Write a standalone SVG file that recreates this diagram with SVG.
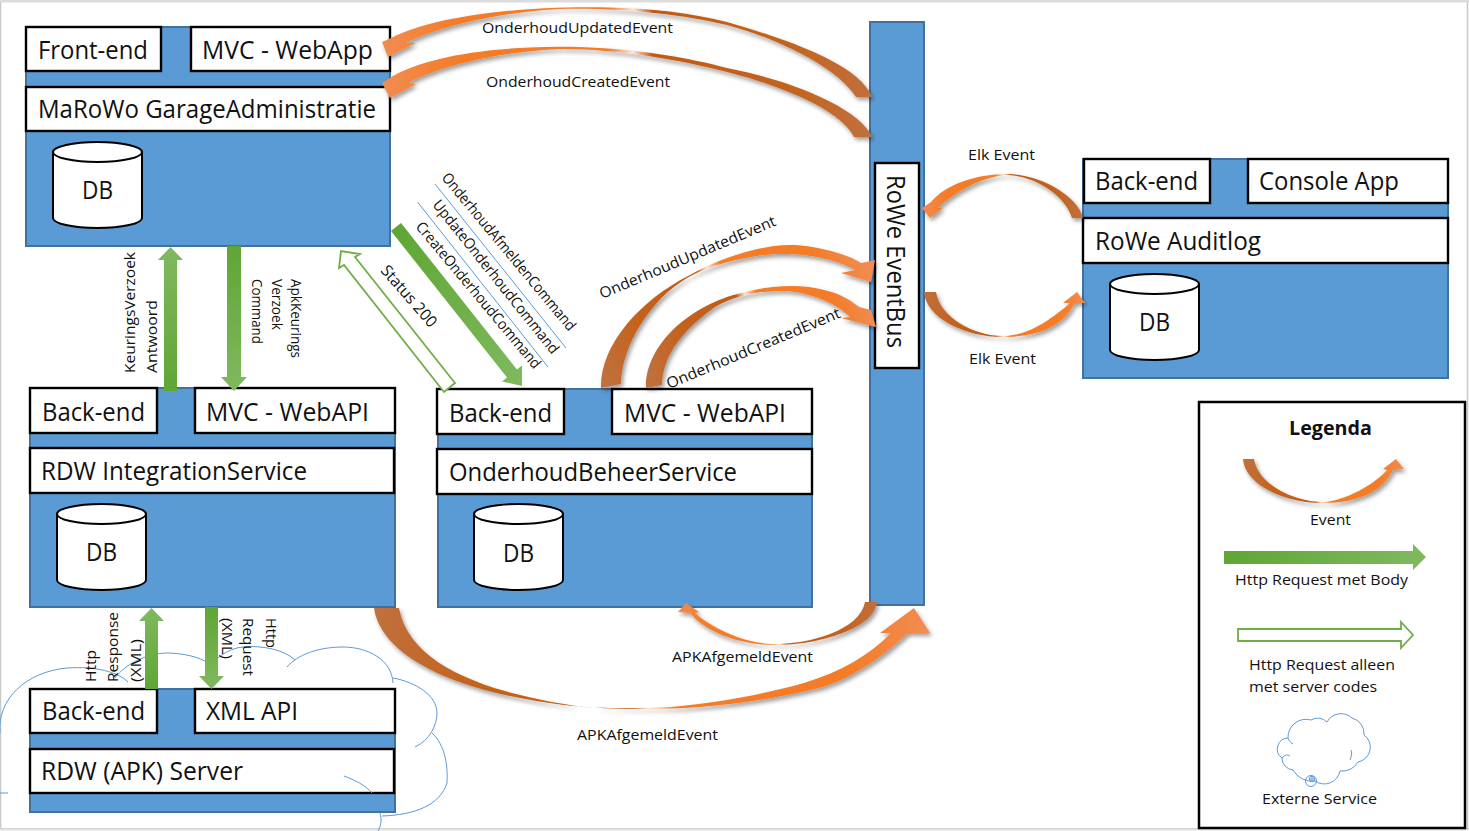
<svg xmlns="http://www.w3.org/2000/svg" width="1469" height="831" viewBox="0 0 1469 831">
<style>
text{font-family:"Open Sans","Noto Sans","Liberation Sans",sans-serif;fill:#111}
.b{fill:#5b9bd5;stroke:#41719c;stroke-width:2}
.w{fill:#fff;stroke:#000;stroke-width:2.4}
.big{font-size:25px}
.s{font-size:15px}
.cyl{fill:#fff;stroke:#000;stroke-width:2}
.ev{filter:url(#sh)}
.gr{stroke:none}
.ol{fill:#fff;stroke:#70ad47;stroke-width:1.8}
.cl{fill:none;stroke:#5b9bd5;stroke-width:1}
</style>
<defs>
<filter id="sh" x="-15%" y="-15%" width="130%" height="130%"><feDropShadow dx="2" dy="3" stdDeviation="2" flood-color="#000" flood-opacity=".38"/></filter>
<linearGradient id="ev"><stop offset="0" stop-color="#c0703d"/><stop offset=".18" stop-color="#c4631f"/><stop offset=".46" stop-color="#c25a14"/><stop offset=".5" stop-color="#fbe5d6"/><stop offset=".55" stop-color="#f47c28"/><stop offset=".85" stop-color="#f47c28"/><stop offset="1" stop-color="#f18c52"/></linearGradient>
<linearGradient id="e1" href="#ev" gradientUnits="userSpaceOnUse" x1="872" y1="97" x2="382" y2="50"/>
<linearGradient id="e2" href="#ev" gradientUnits="userSpaceOnUse" x1="872" y1="137" x2="382" y2="90"/>
<linearGradient id="e3" href="#ev" gradientUnits="userSpaceOnUse" x1="610" y1="388" x2="860" y2="250"/>
<linearGradient id="e4" href="#ev" gradientUnits="userSpaceOnUse" x1="652" y1="388" x2="875" y2="318"/>
<linearGradient id="e5" href="#ev" gradientUnits="userSpaceOnUse" x1="1083" y1="218" x2="922" y2="212"/>
<linearGradient id="e6" href="#ev" gradientUnits="userSpaceOnUse" x1="924" y1="292" x2="1085" y2="298"/>
<linearGradient id="e7" href="#ev" gradientUnits="userSpaceOnUse" x1="374" y1="608" x2="930" y2="625"/>
<linearGradient id="e8" href="#ev" gradientUnits="userSpaceOnUse" x1="877" y1="602" x2="678" y2="610"/>
<linearGradient id="e9" href="#ev" gradientUnits="userSpaceOnUse" x1="1243" y1="459" x2="1404" y2="465"/>
<linearGradient id="gu" x1="0" y1="1" x2="0" y2="0"><stop offset="0" stop-color="#5fa635"/><stop offset="1" stop-color="#80b95f"/></linearGradient>
<linearGradient id="gd" x1="0" y1="0" x2="0" y2="1"><stop offset="0" stop-color="#5fa635"/><stop offset="1" stop-color="#80b95f"/></linearGradient>
<linearGradient id="gr" x1="0" y1="0" x2="1" y2="0"><stop offset="0" stop-color="#5fa635"/><stop offset="1" stop-color="#80b95f"/></linearGradient>
<linearGradient id="gg" href="#gr" gradientUnits="userSpaceOnUse" x1="396" y1="227" x2="522" y2="386"/>
<path id="cy" d="M0 10A44.5 10 0 0 1 89 10V76A44.5 10 0 0 1 0 76Z M89 10A44.5 10 0 0 1 0 10"/>
</defs>
<rect width="1469" height="831" fill="#fff"/>
<rect width="1469" height="2.500" fill="#dcdcdc"/>
<path d="M.5 2V828M1467.5 2V829M0 829H1469" fill="none" stroke="#c8c8c8" stroke-width="1.5"/>
<rect x="0" y="829.500" width="1469" height="1.500" fill="#eee"/>

<g id="garage">
<rect class="b" x="26" y="27" width="364" height="219"/>
<rect class="w" x="26" y="27" width="135" height="44"/><text class="big" x="38" y="59" textLength="110" lengthAdjust="spacingAndGlyphs">Front-end</text>
<rect class="w" x="191" y="27" width="199" height="44"/><text class="big" x="202" y="59" textLength="171" lengthAdjust="spacingAndGlyphs">MVC - WebApp</text>
<rect class="w" x="26" y="87" width="364" height="44"/><text class="big" x="38" y="118" textLength="338" lengthAdjust="spacingAndGlyphs">MaRoWo GarageAdministratie</text>
<use class="cyl" href="#cy" x="53" y="142"/><text class="big" x="82" y="199" textLength="31" lengthAdjust="spacingAndGlyphs">DB</text>
</g>
<g id="rdw-integration">
<rect class="b" x="30" y="388" width="365" height="219"/>
<rect class="w" x="30" y="388" width="127" height="45"/><text class="big" x="42" y="421" textLength="103" lengthAdjust="spacingAndGlyphs">Back-end</text>
<rect class="w" x="195" y="388" width="200" height="45"/><text class="big" x="206" y="421" textLength="163" lengthAdjust="spacingAndGlyphs">MVC - WebAPI</text>
<rect class="w" x="30" y="448" width="364" height="45"/><text class="big" x="41" y="480" textLength="266" lengthAdjust="spacingAndGlyphs">RDW IntegrationService</text>
<use class="cyl" href="#cy" x="57" y="504"/><text class="big" x="86" y="561" textLength="31" lengthAdjust="spacingAndGlyphs">DB</text>
</g>
<g id="onderhoud">
<rect class="b" x="438" y="389" width="374" height="218"/>
<rect class="w" x="437" y="389" width="127" height="45"/><text class="big" x="449" y="422" textLength="103" lengthAdjust="spacingAndGlyphs">Back-end</text>
<rect class="w" x="612" y="389" width="200" height="45"/><text class="big" x="624" y="422" textLength="162" lengthAdjust="spacingAndGlyphs">MVC - WebAPI</text>
<rect class="w" x="437" y="449" width="375" height="45"/><text class="big" x="449" y="481" textLength="288" lengthAdjust="spacingAndGlyphs">OnderhoudBeheerService</text>
<use class="cyl" href="#cy" x="474" y="504"/><text class="big" x="503" y="562" textLength="31" lengthAdjust="spacingAndGlyphs">DB</text>
</g>
<g id="rdw-server">
<rect class="b" x="30" y="689" width="365" height="123"/>
<rect class="w" x="30" y="689" width="127" height="44"/><text class="big" x="42" y="720" textLength="103" lengthAdjust="spacingAndGlyphs">Back-end</text>
<rect class="w" x="195" y="689" width="200" height="44"/><text class="big" x="206" y="720" textLength="92" lengthAdjust="spacingAndGlyphs">XML API</text>
<rect class="w" x="30" y="749" width="364" height="44"/><text class="big" x="41" y="780" textLength="202" lengthAdjust="spacingAndGlyphs">RDW (APK) Server</text>
</g>
<g id="eventbus">
<rect class="b" x="870" y="22" width="54" height="583"/>
<rect class="w" x="875" y="163" width="44" height="205"/>
<text class="big" transform="translate(887 175) rotate(90)" textLength="173" lengthAdjust="spacingAndGlyphs">RoWe EventBus</text>
</g>
<g id="auditlog">
<rect class="b" x="1083" y="159" width="365" height="219"/>
<rect class="w" x="1084" y="159" width="126" height="44"/><text class="big" x="1095" y="190" textLength="103" lengthAdjust="spacingAndGlyphs">Back-end</text>
<rect class="w" x="1248" y="159" width="200" height="44"/><text class="big" x="1259" y="190" textLength="140" lengthAdjust="spacingAndGlyphs">Console App</text>
<rect class="w" x="1083" y="218" width="365" height="45"/><text class="big" x="1095" y="250" textLength="166" lengthAdjust="spacingAndGlyphs">RoWe Auditlog</text>
<use class="cyl" href="#cy" x="1110" y="274"/><text class="big" x="1139" y="331" textLength="31" lengthAdjust="spacingAndGlyphs">DB</text>
</g>
<g id="external-cloud" class="cl">
<path d="M0 733C-3 700 25 672 67 668C95 666 118 672 128 682M115 678C125 664 148 653 167 653C182 653 200 657 208 663M207 672C212 660 228 648 243 647C262 645 285 650 295 660M287 667C297 655 318 647 343 647C368 647 392 660 393 683M393 678C415 682 437 695 437 713C437 725 430 740 415 747M432 733C445 745 448 765 447 783C440 805 415 815 382 816M380 813C382 820 381 826 378 831M344 776C355 780 365 785 372 793M0 793H8"/>
</g>

<g id="connectors">
<path class="ev" fill="url(#e1)" d="M872 97C860 65 790 40 727 22C690 13 650 8 610 7.500C540 5.500 440 13 391 38L382 42L388 57L416 43L406 43C440 26 500 12 560 9C620 7.500 680 14 727 25C775 38 835 65 856 97Z"/>
<path class="ev" fill="url(#e2)" d="M872 137C860 108 790 80 727 68C690 58 640 50 600 48C530 44 440 50 393 76L382 83L390 98L416 84L409 83C430 70 490 52 560 49C620 49 680 60 727 72C775 84 840 108 854 137Z"/>
<path class="ev" fill="url(#e3)" d="M601 388C600 345 640 300 690 275C720 258 760 245 790 245C815 245 850 255 861 263L875 260L871 282L841 273L855 270C835 258 805 253 776 254C745 256 710 265 687 278C650 300 622 345 621 384Z"/>
<path class="ev" fill="url(#e4)" d="M646 388C645 345 690 305 741 293C770 285 800 284 820 289C840 293 850 300 859 307L871 310L876 327L841 318L850 317C835 302 810 293 787 291C760 290 735 296 715 307C690 325 663 350 662 385Z"/>
<path class="ev" fill="url(#e5)" d="M1083 218C1078 196 1040 174 1007 174C975 174 945 185 931 202L922 208L930 218L943 208L938 208C950 196 980 176 1007 175C1035 176 1065 195 1072 218Z"/>
<path class="ev" fill="url(#e6)" d="M924 292C926 318 965 337 1003 337C1040 337 1064 325 1075 303L1085 303L1077 292L1063 303L1070 303C1055 316 1030 336 1003 336C975 336 940 318 936 292Z"/>
<path class="ev" fill="url(#e7)" d="M374 608C380 650 440 690 564 705C590 708 620 709 645 709C700 709 760 703 823 687C860 675 890 650 908 633L930 633L914 608L880 633L891 633C870 655 840 672 804 683C760 695 700 707 645 708C620 708 600 708 582 707C500 695 410 670 399 608Z"/>
<path class="ev" fill="url(#e8)" d="M877 602C875 628 820 645 775 645C740 645 705 632 690 613L678 612L686 603L699 612L695 613C712 628 745 644 775 644C810 644 860 630 865 602Z"/>
<path class="gr" fill="url(#gu)" d="M164 391V260H158L170.500 247L183 260H177V391Z"/>
<path class="gr" fill="url(#gd)" d="M227 246V377H221L234 391L247 377H241V246Z"/>
<path class="gr" fill="url(#gu)" d="M145 689V621H139L151.500 608L164 621H158V689Z"/>
<path class="gr" fill="url(#gd)" d="M205 607V676H199L211.500 689L224 676H218V607Z"/>
<path class="gr" fill="url(#gg)" d="M391 231L401 223L517 369.500L522 365.500V386L502 381.500L507 377.500Z"/>
<path class="ol" d="M444 392L344 265L339 268L341 251L360 254L355 257L455 383Z"/>
<path class="cl" d="M435 184L566 348M417.500 202L548 367"/>
</g>

<g id="labels" class="s">
<text x="482" y="33" textLength="191" lengthAdjust="spacingAndGlyphs">OnderhoudUpdatedEvent</text>
<text x="486" y="87" textLength="184" lengthAdjust="spacingAndGlyphs">OnderhoudCreatedEvent</text>
<text x="968" y="160" textLength="67" lengthAdjust="spacingAndGlyphs">Elk Event</text>
<text x="969" y="364" textLength="67" lengthAdjust="spacingAndGlyphs">Elk Event</text>
<text x="672" y="662" textLength="141" lengthAdjust="spacingAndGlyphs">APKAfgemeldEvent</text>
<text x="577" y="740" textLength="141" lengthAdjust="spacingAndGlyphs">APKAfgemeldEvent</text>
<text transform="translate(602 299) rotate(-22.900)" textLength="190" lengthAdjust="spacingAndGlyphs">OnderhoudUpdatedEvent</text>
<text transform="translate(669 389) rotate(-22.600)" textLength="187" lengthAdjust="spacingAndGlyphs">OnderhoudCreatedEvent</text>
<text transform="translate(441 178) rotate(50.300)" textLength="200" lengthAdjust="spacingAndGlyphs">OnderhoudAfmeldenCommand</text>
<text transform="translate(432 205) rotate(51.400)" textLength="192" lengthAdjust="spacingAndGlyphs">UpdateOnderhoudCommand</text>
<text transform="translate(415 227) rotate(50.200)" textLength="186" lengthAdjust="spacingAndGlyphs">CreateOnderhoudCommand</text>
<text transform="translate(380 271) rotate(49)" font-size="16" textLength="76" lengthAdjust="spacingAndGlyphs">Status 200</text>
<text transform="translate(135 373) rotate(-90)" textLength="121" lengthAdjust="spacingAndGlyphs">KeuringsVerzoek</text>
<text transform="translate(157 373) rotate(-90)" textLength="73" lengthAdjust="spacingAndGlyphs">Antwoord</text>
<text transform="translate(252 279) rotate(90)" textLength="65" lengthAdjust="spacingAndGlyphs">Command</text>
<text transform="translate(272 279) rotate(90)" textLength="51" lengthAdjust="spacingAndGlyphs">Verzoek</text>
<text transform="translate(291 279) rotate(90)" textLength="79" lengthAdjust="spacingAndGlyphs">ApkKeurings</text>
<text transform="translate(96 682) rotate(-90)" textLength="32" lengthAdjust="spacingAndGlyphs">Http</text>
<text transform="translate(118 682) rotate(-90)" textLength="70" lengthAdjust="spacingAndGlyphs">Response</text>
<text transform="translate(141 682) rotate(-90)" textLength="43" lengthAdjust="spacingAndGlyphs">(XML)</text>
<text transform="translate(222 618) rotate(90)" textLength="41" lengthAdjust="spacingAndGlyphs">(XML)</text>
<text transform="translate(243 618) rotate(90)" textLength="58" lengthAdjust="spacingAndGlyphs">Request</text>
<text transform="translate(266 618) rotate(90)" textLength="30" lengthAdjust="spacingAndGlyphs">Http</text>
</g>

<g id="legend">
<rect x="1199" y="402" width="266" height="426" fill="#fff" stroke="#000" stroke-width="2.500"/>
<text x="1289" y="435" font-size="20" font-weight="700" textLength="83" lengthAdjust="spacingAndGlyphs">Legenda</text>
<path class="ev" fill="url(#e9)" d="M1243 459C1245 485 1285 503 1323 503C1360 503 1384 490 1393 470L1404 469L1396 459L1383 469L1387 470C1375 484 1345 501 1323 502C1295 502 1258 485 1254 459Z"/>
<text class="s" x="1310" y="525" textLength="41" lengthAdjust="spacingAndGlyphs">Event</text>
<path fill="url(#gr)" d="M1224 551H1413V544L1426 557L1413 570V564H1224Z"/>
<text class="s" x="1235" y="585" textLength="173" lengthAdjust="spacingAndGlyphs">Http Request met Body</text>
<path class="ol" d="M1238 629H1401V622L1413 635L1401 648V641H1238Z"/>
<text class="s" x="1249" y="670" textLength="146" lengthAdjust="spacingAndGlyphs">Http Request alleen</text>
<text class="s" x="1249" y="692" textLength="128" lengthAdjust="spacingAndGlyphs">met server codes</text>
<path class="cl" d="M1282 758A11 11 0 0 1 1288 738A18 18 0 0 1 1311 720A13 13 0 0 1 1327 722A16 16 0 0 1 1352 718A16 16 0 0 1 1364 735A15 15 0 0 1 1358 762A18 18 0 0 1 1340 771A16 16 0 0 1 1315 781A22 22 0 0 1 1293 770A12 12 0 0 1 1282 758M1282 758C1285 754 1288 755 1290 756M1288 738C1289 741 1291 743 1293 744M1350 760C1352 755 1352 752 1351 750"/>
<circle class="cl" cx="1311" cy="781" r="5.500"/><circle class="cl" cx="1312" cy="779" r="2.800"/><circle class="cl" cx="1312" cy="779" r="1.300"/>
<text class="s" x="1262" y="804" textLength="115" lengthAdjust="spacingAndGlyphs">Externe Service</text>
</g>
</svg>
